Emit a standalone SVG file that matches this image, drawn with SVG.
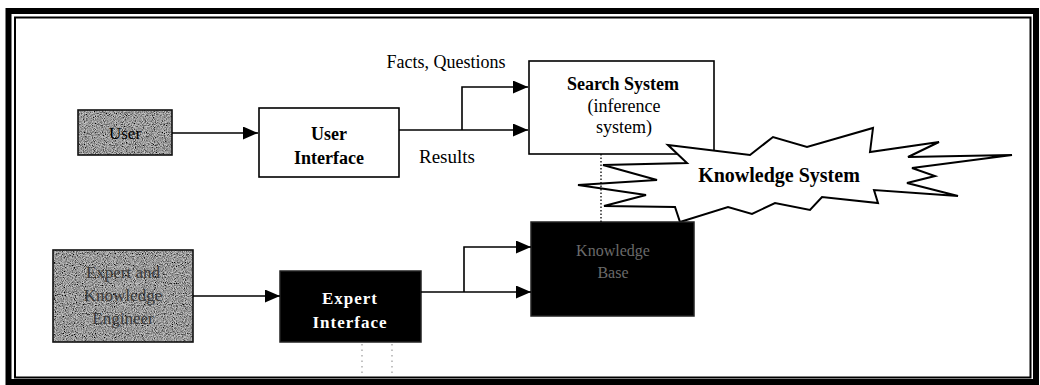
<svg xmlns="http://www.w3.org/2000/svg" width="1040" height="385" viewBox="0 0 1040 385">
<style>
.box{fill:#fff;stroke:#000;stroke-width:1.6}
.dark{fill:#000;stroke:#222;stroke-width:1.5}
.noisy{stroke:#111;stroke-width:1.6}
.t{font-family:"Liberation Serif","Times New Roman",serif;font-size:18px;fill:#000;text-anchor:middle}
.b{font-weight:bold}
.ln{fill:none;stroke:#000;stroke-width:1.6}
.dot{fill:none;stroke:#000;stroke-width:1.3;stroke-dasharray:1.5 2}
.dotg{fill:none;stroke:#999;stroke-width:1.2;stroke-dasharray:1.5 4}
</style>
<defs>
<marker id="ah" markerUnits="userSpaceOnUse" markerWidth="16" markerHeight="13" refX="15" refY="6.5" orient="auto">
<path d="M0,0 L15,6.5 L0,13 z" fill="#000"/>
</marker>
<filter id="noise" x="0" y="0" width="100%" height="100%">
<feTurbulence type="fractalNoise" baseFrequency="1.1" numOctaves="1" seed="3" result="n"/>
<feColorMatrix in="n" type="matrix" values="0 0 0 0 0  0 0 0 0 0  0 0 0 0 0  0 0 0 -2.2 1.55" result="a"/>
<feFlood flood-color="#000"/>
<feComposite in2="a" operator="in" result="blk"/>
<feFlood flood-color="#c8c8c8" result="bg"/>
<feMerge><feMergeNode in="bg"/><feMergeNode in="blk"/></feMerge>
<feComposite in2="SourceAlpha" operator="in"/>
</filter>
</defs>
<rect width="1040" height="385" fill="#fff"/>
<g id="frame">
<rect x="8.5" y="11" width="1027.5" height="371" fill="none" stroke="#000" stroke-width="6"/>
<rect x="15" y="17.5" width="1015.5" height="360" fill="none" stroke="#000" stroke-width="2"/>
</g>
<g id="user">
<rect x="78" y="110" width="94" height="45" fill="#888" filter="url(#noise)"/>
<rect x="78" y="110" width="94" height="45" fill="none" class="noisy"/>
<text class="t" x="125" y="139" style="font-size:17px">User</text>
</g>
<g id="user-interface">
<rect class="box" x="259" y="108" width="140" height="69"/>
<text class="t b" x="329" y="140">User</text>
<text class="t b" x="329" y="164">Interface</text>
</g>
<g id="search-system">
<rect class="box" x="529" y="61" width="185" height="93"/>
<text class="t b" x="623" y="90">Search System</text>
<text class="t" x="624" y="112">(inference</text>
<text class="t" x="624" y="133">system)</text>
</g>
<g id="knowledge-system">
<polygon fill="#fff" stroke="#000" stroke-width="2" stroke-linejoin="miter" points="668,145 750,155 773,137 807,147 873,128 870,152 939,142 908,157 1012,155 912,168 935,176 907,183 958,196 874,190 878,203 822,197 810,210 775,203 752,214 728,207 680,222 675,207 604,206 646,195 578,185 657,180 603,165 687,163"/>
<text class="t b" x="779" y="182" style="font-size:20px">Knowledge System</text>
</g>
<g id="expert-engineer">
<rect x="53" y="250" width="140" height="92" fill="#888" filter="url(#noise)"/>
<rect x="53" y="250" width="140" height="92" fill="none" class="noisy"/>
<text class="t" x="123" y="278" style="fill:#3a3a3a;font-size:17px">Expert and</text>
<text class="t" x="123" y="301" style="fill:#3a3a3a;font-size:17px">Knowledge</text>
<text class="t" x="123" y="324" style="fill:#3a3a3a;font-size:17px">Engineer</text>
</g>
<g id="expert-interface">
<rect class="dark" x="280" y="271" width="141" height="71"/>
<text class="t b" x="350" y="304" style="fill:#fff;font-size:17px;letter-spacing:1px">Expert</text>
<text class="t b" x="350" y="328" style="fill:#fff;font-size:17px;letter-spacing:1px">Interface</text>
</g>
<g id="knowledge-base">
<rect class="dark" x="531" y="222" width="163" height="94"/>
<text class="t" x="613" y="256" style="fill:#6a6a6a;font-size:16px">Knowledge</text>
<text class="t" x="613" y="278" style="fill:#6a6a6a;font-size:16px">Base</text>
</g>
<g id="connectors">
<path class="ln" d="M172,133 H258" marker-end="url(#ah)"/>
<path class="ln" d="M399,130 H528" marker-end="url(#ah)"/>
<path class="ln" d="M462,130 V87 H528" marker-end="url(#ah)"/>
<text class="t" x="446" y="68">Facts, Questions</text>
<text class="t" x="447" y="163" style="font-size:19px">Results</text>
<path class="ln" d="M193,296 H280" marker-end="url(#ah)"/>
<path class="ln" d="M421,292 H531" marker-end="url(#ah)"/>
<path class="ln" d="M464,292 V247 H531" marker-end="url(#ah)"/>
<path class="dot" d="M601,154 V222"/>
<path class="dotg" d="M362,344 V377"/>
<path class="dotg" d="M392,344 V377"/>
</g>
</svg>
